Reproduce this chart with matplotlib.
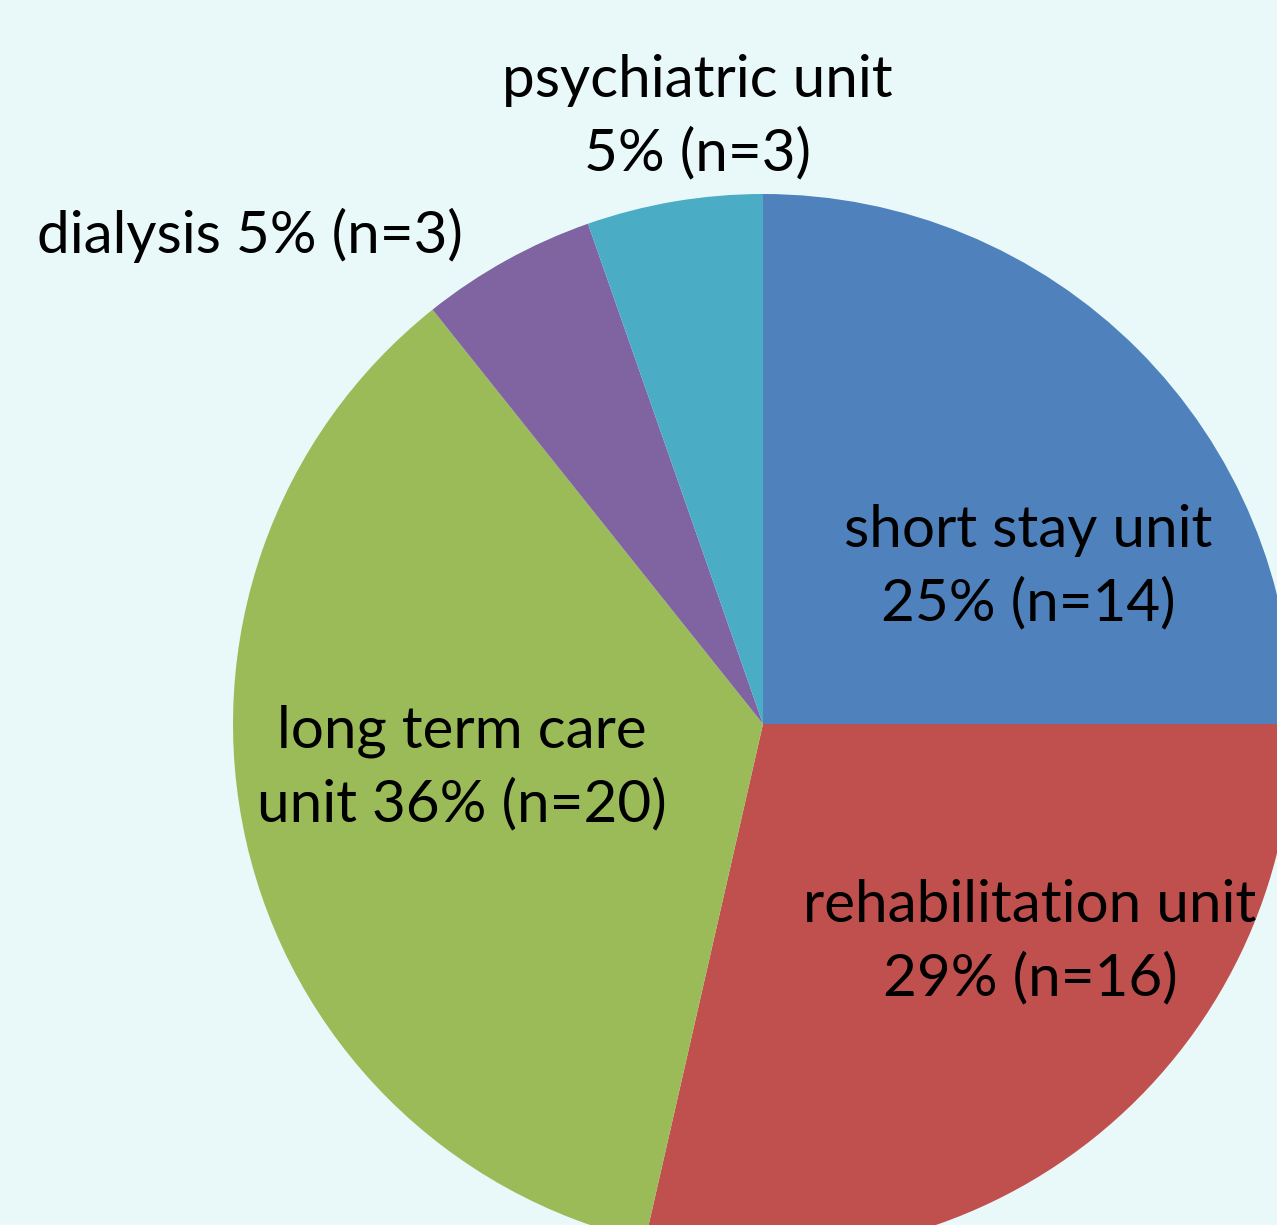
import matplotlib
matplotlib.use("Agg")
import matplotlib.pyplot as plt

categories = ["short stay unit", "rehabilitation unit", "long term care unit", "dialysis", "psychiatric unit"]
counts = [14, 16, 20, 3, 3]
pct_labels = ["25%", "29%", "36%", "5%", "5%"]
label_texts = [
    "short stay unit\n25% (n=14)",
    "rehabilitation unit\n29% (n=16)",
    "long term care\nunit 36% (n=20)",
    "dialysis 5% (n=3)",
    "psychiatric unit\n5% (n=3)",
]
colors = ["#4F81BD", "#C0504D", "#9BBB59", "#8064A2", "#4BACC6"]

W, H = 1277, 1225
bg = "#E9F9F9"
fig = plt.figure(figsize=(W / 100, H / 100), dpi=100, facecolor=bg)
ax = fig.add_axes([0, 0, 1, 1])
ax.set_facecolor(bg)

cx, cy, r = 763, H - 724, 530
ax.pie(counts, colors=colors, startangle=90, counterclock=False,
       center=(cx, cy), radius=r, frame=False,
       wedgeprops=dict(linewidth=0))
ax.set_xlim(0, W)
ax.set_ylim(0, H)
ax.set_aspect("equal")
ax.axis("off")

label_pos = [(1028, 567), (1030, 942), (462, 768), (250, 235), (697, 117)]
for txt, (x, y) in zip(label_texts, label_pos):
    ax.text(x, H - y, txt, ha="center", va="center", fontsize=42,
            family=["Lato", "DejaVu Sans"], color="black", linespacing=1.45)

fig.savefig("out.png", dpi=100, facecolor=bg)
